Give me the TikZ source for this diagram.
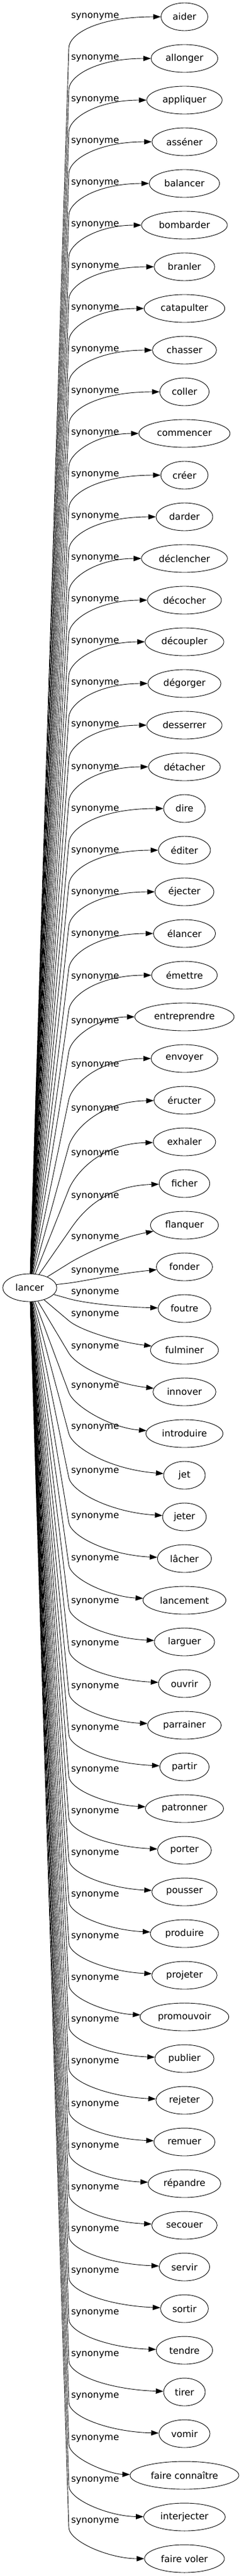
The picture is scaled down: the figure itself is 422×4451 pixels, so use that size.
\documentclass[tikz,border=0pt]{standalone}
\usepackage{fontspec}
\setmainfont{DejaVu Sans}
\usetikzlibrary{arrows.meta,calc,shapes.geometric}
\begin{document}
\begin{tikzpicture}[x=1pt,y=-1pt,
  every node/.style={font=\fontsize{16pt}{19pt}\selectfont},
  term/.style={draw, ellipse, line width=0.9pt, minimum width=72pt, minimum height=48pt, inner xsep=8.25pt, inner ysep=2pt},
  rel/.style={inner sep=0pt},
  link/.style={draw, line width=0.9pt, -{Triangle[length=13pt,width=9pt]}}]
\useasboundingbox (0,0) rectangle (422,4451);
\node[term] (lancer) at (51.5,2225) {lancer};
\foreach \i/\w/\lo/\ko/\cx/\cy in {
0/aider/0/54/170/0,
1/allonger/0/54/170/0,
2/appliquer/0/55/170/0,
3/asséner/0/55/170/0,
4/balancer/0/55/170/0,
5/bombarder/0/55/170/0,
6/branler/0/56/170/0,
7/catapulter/0/56/170/0,
8/chasser/0/56/170/0,
9/coller/0/56/170/0,
10/commencer/0/57/170/0,
11/créer/0/57/170/0,
12/darder/0/57/170/0,
13/déclencher/0/57/170/0,
14/décocher/0/58/170/0,
15/découpler/0/58/170/0,
16/dégorger/0/58/170/0,
17/desserrer/0/58/170/0,
18/détacher/2/59/170/0,
19/dire/2/59/170/0,
20/éditer/2/59/170/0,
21/éjecter/2/59/170/0,
22/élancer/2/60/170/0,
23/émettre/4/60/170/0,
24/entreprendre/9/60/170/0,
25/envoyer/12/71/170/0,
26/éructer/16/79/170/2,
27/exhaler/21/82/170/3,
28/ficher/23/83/170/4,
29/flanquer/22/66/200/23,
30/fonder/8/28/200/12,
31/foutre/-27/-17/200/-3,
32/fulminer/-61/-51/200/-15,
33/innover/-77/-67/190/-15,
34/introduire/-81/-71/190/-10,
35/jet/-82/-72/190/-10,
36/jeter/-78/-68/190/-8,
37/lâcher/-72/-62/190/-6,
38/lancement/-71/-61/190/-6,
39/larguer/-69/-59/190/-6,
40/ouvrir/-68/-58/190/-6,
41/parrainer/-66/-56/190/-6,
42/partir/-66/-56/190/-6,
43/patronner/-66/-56/190/-6,
44/porter/-66/-56/190/-6,
45/pousser/-66/-56/190/-6,
46/produire/-66/-56/190/-6,
47/projeter/-66/-56/190/-6,
48/promouvoir/-66/-56/190/-6,
49/publier/-66/-56/190/-6,
50/rejeter/-66/-56/190/-6,
51/remuer/-64/-54/190/-5,
52/répandre/-64/-54/190/-5,
53/secouer/-64/-54/190/-5,
54/servir/-64/-54/190/-5,
55/sortir/-64/-54/190/-5,
56/tendre/-64/-54/190/-4,
57/tirer/-64/-54/190/-4,
58/vomir/-64/-54/190/-3,
59/{faire connaître}/-63/-54/190/-2,
60/interjecter/-63/-54/190/-1,
61/{faire voler}/-64/-54/190/0}{
  \pgfmathsetmacro\ty{29+72*\i}
  \pgfmathsetmacro\ly{\ty+\lo}
  \pgfmathsetmacro\ky{\ty+\ko}
  \pgfmathsetmacro\cyy{\ty+\cy}
  \node[term] (n\i) at (319,\ty) {\w};
  \node[rel] (l\i) at (164.5,\ly) {synonyme};
  \coordinate (k\i) at (119,\ky);
  \draw[link] (lancer) -- (k\i) .. controls ($(k\i)!-25pt!(lancer)$) and (\cx,\cyy) .. (n\i);
}
\end{tikzpicture}
\end{document}
